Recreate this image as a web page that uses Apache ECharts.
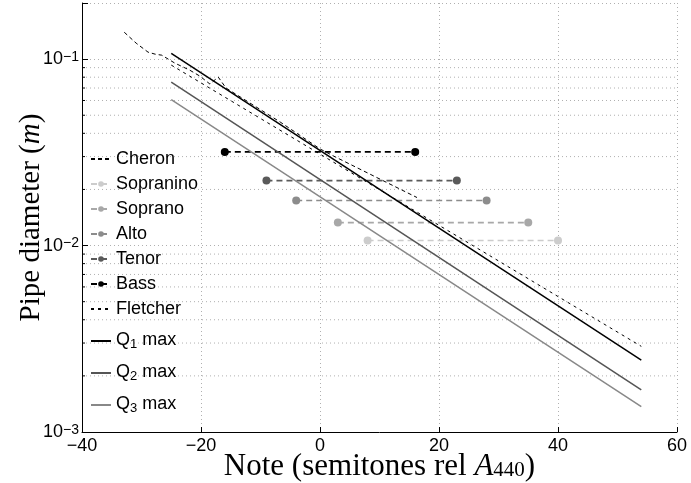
<!DOCTYPE html>
<html><head><meta charset="utf-8">
<script src="https://cdn.jsdelivr.net/npm/echarts@6/dist/echarts.min.js"></script>
<style>html,body{margin:0;padding:0;background:#fff}#c{width:691px;height:483px}</style>
</head><body><div id="c"></div>
<script>
// ---- data ----
const xTicks = [-40, -20, 0, 20, 40, 60];
const yMinorGrid = [0.002,0.003,0.004,0.005,0.006,0.007,0.008,0.009,0.02,0.03,0.04,0.05,0.06,0.07,0.08,0.09];

const cheronNotes = [-32.9, -30.9, -28.9, -27.7, -26.6, -24.4, -21.9, -20.2, -18.5, -17.1, -15.8, -6.7, 0.0, 2.2, 16.3];
const cheronDiam  = [0.1394, 0.1218, 0.1090, 0.1063, 0.1050, 0.0952, 0.0873, 0.0811, 0.0735, 0.0801, 0.0700, 0.0460, 0.0330, 0.0303, 0.0181];

const fletcherNotes = [-25, 54];
const fletcherDiam  = [0.0929, 0.00288];

const qNotes = [-25, 54];
const q1Diam = [0.1073, 0.00243];
const q2Diam = [0.0753, 0.00168];
const q3Diam = [0.0607, 0.00137];

const instrumentNames = ['Sopranino', 'Soprano', 'Alto', 'Tenor', 'Bass'];
const instrumentLow   = [8, 3, -4, -9, -16];
const instrumentHigh  = [40, 35, 28, 23, 16];
const instrumentDiam  = [0.01064, 0.01328, 0.01746, 0.0223, 0.0318];

const legendOrder = ['Cheron', 'Sopranino', 'Soprano', 'Alto', 'Tenor', 'Bass', 'Fletcher', 'Q1 max', 'Q2 max', 'Q3 max'];

// ---- styles ----
const instrumentColors = ['#cccccc', '#a8a8a8', '#8c8c8c', '#5a5a5a', '#000000'];
const qColors = ['#000000', '#555555', '#888888'];
const SANS = 'Liberation Sans';
const SERIF = 'Liberation Serif';

function zip(a, b) { return a.map((v, i) => [v, b[i]]); }

const series = [];
series.push({
  name: 'Cheron', type: 'line', data: zip(cheronNotes, cheronDiam), symbol: 'none',
  color: '#000', lineStyle: { color: '#000', width: 1, type: [4, 3] }, z: 3
});
instrumentNames.forEach((n, i) => {
  series.push({
    name: n, type: 'line',
    data: [[instrumentLow[i], instrumentDiam[i]], [instrumentHigh[i], instrumentDiam[i]]],
    symbol: 'circle', symbolSize: 8, color: instrumentColors[i],
    itemStyle: { color: instrumentColors[i] },
    lineStyle: { color: instrumentColors[i], width: 1.6, type: [6, 4] }, z: 2
  });
});
series.push({
  name: 'Fletcher', type: 'line', data: zip(fletcherNotes, fletcherDiam), symbol: 'none',
  color: '#000', lineStyle: { color: '#000', width: 1, type: [3, 4] }, z: 3
});
[q1Diam, q2Diam, q3Diam].forEach((d, i) => {
  series.push({
    name: 'Q' + (i + 1) + ' max', type: 'line', data: zip(qNotes, d), symbol: 'none',
    color: qColors[i], lineStyle: { color: qColors[i], width: 1.5, type: 'solid' }, z: 3
  });
});
series.push({
  type: 'custom', silent: true, z: 0,
  data: yMinorGrid.map(v => [0, v]),
  encode: { x: 0, y: 1 },
  renderItem: function (params, api) {
    const cs = params.coordSys;
    const y = api.coord([0, api.value(1)])[1];
    return { type: 'group', children: [
      { type: 'line', shape: { x1: cs.x, y1: y, x2: cs.x + cs.width, y2: y },
        style: { stroke: '#b0b0b0', lineWidth: 1, lineDash: [1, 3] } },
      { type: 'line', shape: { x1: cs.x, y1: y, x2: cs.x + 3, y2: y },
        style: { stroke: '#000', lineWidth: 1 } }
    ]};
  }
});

const noSymbol = ['Cheron', 'Fletcher', 'Q1 max', 'Q2 max', 'Q3 max'];
const legendData = legendOrder.map(n => noSymbol.includes(n) ? { name: n, itemStyle: { opacity: 0 } } : { name: n });

const chart = echarts.init(document.getElementById('c'), null, { renderer: 'canvas' });
chart.setOption({
  animation: false,
  backgroundColor: '#fff',
  grid: { left: 82, right: 14, top: 3, bottom: 51, containLabel: false, outerBoundsMode: 'none' },
  legend: {
    data: legendData, orient: 'vertical', left: 90, top: 149, padding: 0,
    itemWidth: 20, itemHeight: 7, itemGap: 5,
    textStyle: {
      fontFamily: SANS, fontSize: 18, color: '#000', lineHeight: 20,
      rich: {
        q: { fontFamily: SANS, fontSize: 18, lineHeight: 20, verticalAlign: 'top', color: '#000' },
        sub: { fontFamily: SANS, fontSize: 13, lineHeight: 13, padding: [14, 0, 0, 0], verticalAlign: 'bottom', color: '#000' }
      }
    },
    formatter: function (name) {
      const m = /^Q(\d) max$/.exec(name);
      if (m) return '{q|Q}{sub|' + m[1] + '}{q| max}';
      return name;
    },
    selectedMode: false
  },
  xAxis: {
    type: 'value', min: -40, max: 60, interval: 20,
    name: '{r|Note (semitones rel }{i|A}{s|440}{r|)}',
    nameLocation: 'middle', nameGap: 19, nameMoveOverlap: false,
    nameTextStyle: {
      rich: {
        r: { fontFamily: SERIF, fontSize: 31, lineHeight: 30, verticalAlign: 'top', color: '#000' },
        i: { fontFamily: SERIF, fontSize: 31, lineHeight: 30, verticalAlign: 'top', fontStyle: 'italic', color: '#000' },
        s: { fontFamily: SERIF, fontSize: 21, lineHeight: 21, padding: [13, 0, 0, 0], verticalAlign: 'bottom', color: '#000' }
      }
    },
    axisLine: { onZero: false, lineStyle: { color: '#000', width: 1 } },
    axisTick: { inside: true, length: 5, lineStyle: { color: '#000' } },
    axisLabel: {
      fontFamily: SANS, fontSize: 18, color: '#000', margin: 5,
      formatter: v => String(v).replace('-', '\u2212')
    },
    splitLine: { show: true, lineStyle: { color: '#b0b0b0', width: 1, type: [1, 3] } }
  },
  yAxis: {
    type: 'log', logBase: 10, min: 0.001, max: 0.2,
    name: '{r|Pipe diameter (}{i|m}{r|)}',
    nameLocation: 'middle', nameRotate: 90, nameGap: 36, nameMoveOverlap: false,
    nameTextStyle: {
      rich: {
        r: { fontFamily: SERIF, fontSize: 29, color: '#000' },
        i: { fontFamily: SERIF, fontSize: 29, fontStyle: 'italic', color: '#000' }
      }
    },
    axisLine: { show: true, onZero: false, lineStyle: { color: '#000', width: 1 } },
    axisTick: { show: true, inside: true, length: 6, lineStyle: { color: '#000' } },
    axisLabel: {
      margin: 3,
      formatter: function (v) {
        const e = Math.round(Math.log10(v));
        if (Math.abs(v - Math.pow(10, e)) / v > 1e-6) return '';
        return '{b|10}{s|\u2212' + (-e) + '}';
      },
      rich: {
        b: { fontFamily: SANS, fontSize: 18, lineHeight: 18, verticalAlign: 'bottom', color: '#000' },
        s: { fontFamily: SANS, fontSize: 14, lineHeight: 14, padding: [0, 0, 11, 0], verticalAlign: 'top', color: '#000' }
      }
    },
    splitLine: { show: true, lineStyle: { color: '#b0b0b0', width: 1, type: [1, 3] } }
  },
  series: series
});
</script>
</body></html>
